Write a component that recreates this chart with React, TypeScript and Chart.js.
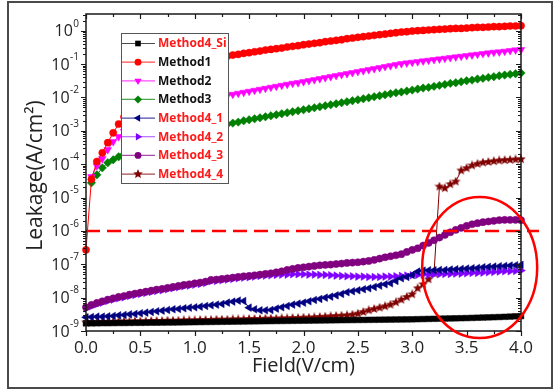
import React, { useEffect, useRef } from 'react';
import { Chart, registerables } from 'chart.js';

Chart.register(...registerables);

// ---------------- data ----------------
const field = [
  0, 0.05, 0.1, 0.15, 0.2, 0.25, 0.3, 0.35, 0.4, 0.45,
  0.5, 0.55, 0.6, 0.65, 0.7, 0.75, 0.8, 0.85, 0.9, 0.95,
  1, 1.05, 1.1, 1.15, 1.2, 1.25, 1.3, 1.35, 1.4, 1.45,
  1.5, 1.55, 1.6, 1.65, 1.7, 1.75, 1.8, 1.85, 1.9, 1.95,
  2, 2.05, 2.1, 2.15, 2.2, 2.25, 2.3, 2.35, 2.4, 2.45,
  2.5, 2.55, 2.6, 2.65, 2.7, 2.75, 2.8, 2.85, 2.9, 2.95,
  3, 3.05, 3.1, 3.15, 3.2, 3.25, 3.3, 3.35, 3.4, 3.45,
  3.5, 3.55, 3.6, 3.65, 3.7, 3.75, 3.8, 3.85, 3.9, 3.95,
  4,
];

const method4Si = [
  1.70e-9, 1.70e-9, 1.71e-9, 1.72e-9, 1.72e-9, 1.73e-9, 1.74e-9, 1.74e-9, 1.75e-9, 1.76e-9,
  1.76e-9, 1.77e-9, 1.78e-9, 1.78e-9, 1.79e-9, 1.80e-9, 1.80e-9, 1.81e-9, 1.82e-9, 1.83e-9,
  1.84e-9, 1.85e-9, 1.86e-9, 1.87e-9, 1.88e-9, 1.89e-9, 1.90e-9, 1.91e-9, 1.92e-9, 1.93e-9,
  1.94e-9, 1.95e-9, 1.96e-9, 1.97e-9, 1.98e-9, 1.99e-9, 2.00e-9, 2.01e-9, 2.02e-9, 2.03e-9,
  2.04e-9, 2.05e-9, 2.06e-9, 2.07e-9, 2.08e-9, 2.09e-9, 2.10e-9, 2.11e-9, 2.12e-9, 2.13e-9,
  2.14e-9, 2.15e-9, 2.16e-9, 2.17e-9, 2.18e-9, 2.19e-9, 2.20e-9, 2.21e-9, 2.22e-9, 2.23e-9,
  2.24e-9, 2.26e-9, 2.28e-9, 2.30e-9, 2.32e-9, 2.34e-9, 2.36e-9, 2.38e-9, 2.40e-9, 2.42e-9,
  2.44e-9, 2.47e-9, 2.50e-9, 2.53e-9, 2.56e-9, 2.59e-9, 2.62e-9, 2.66e-9, 2.70e-9, 2.75e-9,
  2.80e-9,
];

const method1 = [
  2.7e-7, 3.5e-5, 1.2e-4, 2.2e-4, 4.4e-4, 8.7e-4, 1.6e-3, 2.6e-3, 4.0e-3, 5.8e-3,
  7.9e-3, 1.07e-2, 1.38e-2, 1.78e-2, 2.24e-2, 2.75e-2, 3.39e-2, 4.07e-2, 4.9e-2, 5.75e-2,
  6.76e-2, 7.94e-2, 9.33e-2, 0.11, 0.126, 0.145, 0.174, 0.186, 0.195, 0.209,
  0.219, 0.234, 0.245, 0.263, 0.275, 0.288, 0.302, 0.324, 0.339, 0.355,
  0.38, 0.398, 0.417, 0.437, 0.468, 0.49, 0.513, 0.537, 0.575, 0.603,
  0.631, 0.661, 0.692, 0.724, 0.759, 0.794, 0.832, 0.871, 0.912, 0.933,
  0.977, 1.0, 1.02, 1.05, 1.07, 1.10, 1.12, 1.15, 1.17, 1.17,
  1.20, 1.23, 1.26, 1.26, 1.29, 1.32, 1.32, 1.35, 1.38, 1.38,
  1.41,
];

const method2 = [
  null, 4.2e-5, 8.9e-5, 1.45e-4, 2.7e-4, 4.7e-4, 6.6e-4, 9.5e-4, 1.26e-3, 1.62e-3,
  2.04e-3, 2.51e-3, 3.02e-3, 3.55e-3, 4.07e-3, 4.68e-3, 5.25e-3, 5.89e-3, 6.61e-3, 7.24e-3,
  7.94e-3, 8.51e-3, 9.12e-3, 9.77e-3, 1.05e-2, 1.10e-2, 1.15e-2, 1.23e-2, 1.32e-2, 1.41e-2,
  1.51e-2, 1.62e-2, 1.74e-2, 1.86e-2, 2.0e-2, 2.14e-2, 2.29e-2, 2.45e-2, 2.63e-2, 2.75e-2,
  2.95e-2, 3.16e-2, 3.39e-2, 3.63e-2, 3.89e-2, 4.17e-2, 4.47e-2, 4.79e-2, 5.13e-2, 5.5e-2,
  5.89e-2, 6.31e-2, 6.76e-2, 7.24e-2, 7.76e-2, 8.32e-2, 8.91e-2, 9.55e-2, 0.102, 0.107,
  0.112, 0.117, 0.123, 0.129, 0.135, 0.141, 0.148, 0.155, 0.162, 0.170,
  0.178, 0.186, 0.195, 0.204, 0.214, 0.224, 0.229, 0.240, 0.251, 0.263,
  0.269,
];

const method3 = [
  null, 2.75e-5, 4.79e-5, 7.76e-5, 1.10e-4, 1.35e-4, 1.66e-4, 2.0e-4, 2.4e-4, 2.82e-4,
  3.31e-4, 3.8e-4, 4.37e-4, 5.01e-4, 5.62e-4, 6.31e-4, 7.08e-4, 7.94e-4, 8.71e-4, 9.55e-4,
  1.05e-3, 1.12e-3, 1.2e-3, 1.29e-3, 1.38e-3, 1.48e-3, 1.58e-3, 1.7e-3, 1.82e-3, 2.0e-3,
  2.14e-3, 2.29e-3, 2.45e-3, 2.63e-3, 2.82e-3, 3.02e-3, 3.24e-3, 3.47e-3, 3.72e-3, 3.98e-3,
  4.27e-3, 4.57e-3, 4.9e-3, 5.25e-3, 5.62e-3, 6.03e-3, 6.46e-3, 6.92e-3, 7.41e-3, 7.94e-3,
  8.51e-3, 9.12e-3, 9.77e-3, 1.05e-2, 1.12e-2, 1.2e-2, 1.29e-2, 1.38e-2, 1.45e-2, 1.55e-2,
  1.66e-2, 1.78e-2, 1.91e-2, 2.0e-2, 2.14e-2, 2.29e-2, 2.45e-2, 2.63e-2, 2.75e-2, 2.95e-2,
  3.16e-2, 3.31e-2, 3.55e-2, 3.72e-2, 3.98e-2, 4.17e-2, 4.47e-2, 4.68e-2, 4.9e-2, 5.13e-2,
  5.37e-2,
];

const method4_1 = [
  2.57e-9, 2.63e-9, 2.69e-9, 2.69e-9, 2.75e-9, 2.82e-9, 2.95e-9, 3.02e-9, 3.16e-9, 3.24e-9,
  3.39e-9, 3.55e-9, 3.72e-9, 3.89e-9, 4.07e-9, 4.27e-9, 4.47e-9, 4.57e-9, 4.79e-9, 5.01e-9,
  5.13e-9, 5.37e-9, 5.62e-9, 5.89e-9, 6.17e-9, 6.46e-9, 7.08e-9, 7.59e-9, 8.13e-9, 7.94e-9,
  5.01e-9, 4.47e-9, 4.17e-9, 4.17e-9, 4.27e-9, 4.68e-9, 5.13e-9, 5.62e-9, 6.17e-9, 6.61e-9,
  7.08e-9, 7.76e-9, 8.51e-9, 9.12e-9, 1.0e-8, 1.07e-8, 1.17e-8, 1.29e-8, 1.45e-8, 1.55e-8,
  1.66e-8, 1.78e-8, 1.91e-8, 2.09e-8, 2.29e-8, 2.51e-8, 2.69e-8, 3.16e-8, 3.8e-8, 4.17e-8,
  4.79e-8, 6.03e-8, 6.46e-8, 6.61e-8, 6.61e-8, 6.76e-8, 6.76e-8, 6.92e-8, 7.08e-8, 7.24e-8,
  7.41e-8, 7.59e-8, 7.76e-8, 8.13e-8, 8.32e-8, 8.51e-8, 8.71e-8, 8.91e-8, 9.12e-8, 9.33e-8,
  9.55e-8,
];

const method4_2 = [
  4.79e-9, 5.5e-9, 6.31e-9, 7.08e-9, 7.94e-9, 8.71e-9, 9.55e-9, 1.02e-8, 1.12e-8, 1.2e-8,
  1.29e-8, 1.38e-8, 1.48e-8, 1.58e-8, 1.66e-8, 1.78e-8, 1.91e-8, 2.04e-8, 2.19e-8, 2.29e-8,
  2.45e-8, 2.57e-8, 2.75e-8, 3.09e-8, 3.16e-8, 3.31e-8, 3.47e-8, 3.63e-8, 3.8e-8, 3.98e-8,
  4.07e-8, 4.27e-8, 4.47e-8, 4.57e-8, 4.68e-8, 4.79e-8, 4.9e-8, 4.9e-8, 5.01e-8, 5.01e-8,
  5.01e-8, 4.9e-8, 4.9e-8, 4.79e-8, 4.79e-8, 4.68e-8, 4.57e-8, 4.47e-8, 4.37e-8, 4.37e-8,
  4.27e-8, 4.27e-8, 4.17e-8, 4.17e-8, 4.17e-8, 4.27e-8, 4.27e-8, 4.37e-8, 4.47e-8, 4.57e-8,
  4.68e-8, 4.79e-8, 4.9e-8, 4.9e-8, 5.01e-8, 5.01e-8, 5.13e-8, 5.13e-8, 5.25e-8, 5.25e-8,
  5.37e-8, 5.5e-8, 5.5e-8, 5.62e-8, 5.75e-8, 5.89e-8, 6.03e-8, 6.17e-8, 6.17e-8, 6.31e-8,
  6.46e-8,
];

const method4_3 = [
  5.13e-9, 6.03e-9, 6.92e-9, 7.76e-9, 8.71e-9, 9.55e-9, 1.05e-8, 1.12e-8, 1.23e-8, 1.32e-8,
  1.41e-8, 1.51e-8, 1.62e-8, 1.74e-8, 1.82e-8, 1.95e-8, 2.09e-8, 2.24e-8, 2.4e-8, 2.51e-8,
  2.69e-8, 2.82e-8, 3.02e-8, 3.39e-8, 3.47e-8, 3.63e-8, 3.8e-8, 3.98e-8, 4.17e-8, 4.37e-8,
  4.47e-8, 4.68e-8, 4.9e-8, 5.13e-8, 5.37e-8, 5.75e-8, 6.17e-8, 6.76e-8, 7.24e-8, 7.76e-8,
  8.13e-8, 8.51e-8, 8.91e-8, 9.33e-8, 9.55e-8, 9.77e-8, 1.02e-7, 1.05e-7, 1.10e-7, 1.12e-7,
  1.15e-7, 1.20e-7, 1.26e-7, 1.35e-7, 1.48e-7, 1.62e-7, 1.74e-7, 1.86e-7, 2.0e-7, 2.34e-7,
  2.69e-7, 3.02e-7, 3.63e-7, 4.37e-7, 5.25e-7, 6.31e-7, 7.59e-7, 9.12e-7, 1.07e-6, 1.23e-6,
  1.41e-6, 1.58e-6, 1.70e-6, 1.82e-6, 1.91e-6, 2.0e-6, 2.09e-6, 2.14e-6, 2.14e-6, 2.14e-6,
  2.09e-6,
];

const method4_4 = [
  1.82e-9, 1.82e-9, 1.82e-9, 1.86e-9, 1.86e-9, 1.86e-9, 1.91e-9, 1.91e-9, 1.91e-9, 1.95e-9,
  1.95e-9, 1.95e-9, 2.0e-9, 2.0e-9, 2.0e-9, 2.04e-9, 2.04e-9, 2.04e-9, 2.09e-9, 2.09e-9,
  2.09e-9, 2.14e-9, 2.14e-9, 2.14e-9, 2.19e-9, 2.19e-9, 2.19e-9, 2.24e-9, 2.24e-9, 2.24e-9,
  2.29e-9, 2.29e-9, 2.29e-9, 2.34e-9, 2.34e-9, 2.34e-9, 2.4e-9, 2.4e-9, 2.45e-9, 2.45e-9,
  2.51e-9, 2.51e-9, 2.57e-9, 2.63e-9, 2.69e-9, 2.75e-9, 2.82e-9, 2.88e-9, 2.95e-9, 3.09e-9,
  3.31e-9, 3.72e-9, 4.17e-9, 4.57e-9, 5.01e-9, 5.5e-9, 6.17e-9, 7.24e-9, 8.71e-9, 1.05e-8,
  1.26e-8, 1.91e-8, 2.51e-8, 3.55e-8, 5.37e-8, 2.14e-5, 1.91e-5, 2.51e-5, 3.02e-5, 6.46e-5,
  7.59e-5, 9.12e-5, 1.02e-4, 1.12e-4, 1.17e-4, 1.23e-4, 1.29e-4, 1.32e-4, 1.35e-4, 1.38e-4,
  1.41e-4,
];

const seriesNames = ['Method4_Si', 'Method1', 'Method2', 'Method3', 'Method4_1', 'Method4_2', 'Method4_3', 'Method4_4'];
const seriesValues = [method4Si, method1, method2, method3, method4_1, method4_2, method4_3, method4_4];

const xTickValues = [0, 0.5, 1, 1.5, 2, 2.5, 3, 3.5, 4];
const xTickLabels = ['0.0', '0.5', '1.0', '1.5', '2.0', '2.5', '3.0', '3.5', '4.0'];
const yTickExponents = [0, -1, -2, -3, -4, -5, -6, -7, -8, -9];
const thresholdValue = 1e-6;
const xTitle = 'Field(V/cm)';
const yTitle = 'Leakage(A/cm²)';

// ---------------- styles ----------------
const FONT = '"Open Sans", "DejaVu Sans", sans-serif';
const colors = ['#000000', '#ff0000', '#ff00ff', '#008000', '#000080', '#8000ff', '#800080', '#800000'];
const labelColors = ['#ff1a1a', '#111111', '#111111', '#111111', '#ff1a1a', '#ff1a1a', '#ff1a1a', '#ff1a1a'];
type Mk = { style: string; rot: number; r: number };
const markers: Mk[] = [
  { style: 'rect', rot: 0, r: 4 },
  { style: 'circle', rot: 0, r: 3.6 },
  { style: 'triangle', rot: 180, r: 4.4 },
  { style: 'rectRot', rot: 0, r: 4.2 },
  { style: 'triangle', rot: -90, r: 4.4 },
  { style: 'triangle', rot: 90, r: 4.4 },
  { style: 'circle', rot: 0, r: 3.6 },
  { style: 'star', rot: 0, r: 5 },
];
const legendMarkers: Mk[] = [
  { style: 'rect', rot: 0, r: 4 },
  { style: 'circle', rot: 0, r: 3.4 },
  { style: 'triangle', rot: 180, r: 4.2 },
  { style: 'rectRot', rot: 0, r: 4 },
  { style: 'triangle', rot: -90, r: 4.2 },
  { style: 'triangle', rot: 90, r: 4.2 },
  { style: 'circle', rot: 0, r: 3.4 },
  { style: 'star', rot: 0, r: 5 },
];

function makeStar(color: string, size: number) {
  const c = document.createElement('canvas');
  c.width = size;
  c.height = size;
  const g = c.getContext('2d')!;
  g.fillStyle = color;
  g.beginPath();
  const cx = size / 2, cy = size / 2, R = size / 2, r = R * 0.45;
  for (let i = 0; i < 10; i++) {
    const a = -Math.PI / 2 + (i * Math.PI) / 5;
    const rad = i % 2 === 0 ? R : r;
    const px = cx + rad * Math.cos(a), py = cy + rad * Math.sin(a);
    if (i === 0) g.moveTo(px, py); else g.lineTo(px, py);
  }
  g.closePath();
  g.fill();
  return c;
}

function drawMarker(ctx: CanvasRenderingContext2D, mk: Mk, x: number, y: number, color: string, star: HTMLCanvasElement) {
  ctx.save();
  ctx.fillStyle = color;
  ctx.strokeStyle = color;
  if (mk.style === 'star') {
    ctx.drawImage(star, x - star.width / 2, y - star.height / 2);
    ctx.restore();
    return;
  }
  ctx.translate(x, y);
  ctx.rotate((mk.rot * Math.PI) / 180);
  ctx.beginPath();
  const r = mk.r;
  if (mk.style === 'circle') {
    ctx.arc(0, 0, r, 0, Math.PI * 2);
  } else if (mk.style === 'rect') {
    const s = r * Math.SQRT1_2;
    ctx.rect(-s, -s, 2 * s, 2 * s);
  } else if (mk.style === 'rectRot') {
    const s = r;
    ctx.moveTo(0, -s); ctx.lineTo(s, 0); ctx.lineTo(0, s); ctx.lineTo(-s, 0); ctx.closePath();
  } else if (mk.style === 'triangle') {
    const side = (3 * r) / Math.sqrt(3);
    const h = (side * Math.sqrt(3)) / 2;
    ctx.moveTo(0, -(2 * h) / 3);
    ctx.lineTo(side / 2, h / 3);
    ctx.lineTo(-side / 2, h / 3);
    ctx.closePath();
  }
  ctx.fill();
  ctx.restore();
}

function makeDecor(star: HTMLCanvasElement) {
  return {
    id: 'decor',
    beforeDraw(chart: any) {
      const ctx: CanvasRenderingContext2D = chart.ctx;
      ctx.save();
      ctx.fillStyle = '#ffffff';
      ctx.fillRect(0, 0, chart.width, chart.height);
      ctx.strokeStyle = '#4a4a4a';
      ctx.lineWidth = 2;
      ctx.strokeRect(8, 2, 544, 386);
      ctx.restore();
    },
    afterDatasetsDraw(chart: any) {
      const ctx: CanvasRenderingContext2D = chart.ctx;
      const a = chart.chartArea;
      const xs = chart.scales.x;
      const ys = chart.scales.y;
      ctx.save();

      // threshold dashed line
      const ty = ys.getPixelForValue(thresholdValue);
      ctx.strokeStyle = '#ff0000';
      ctx.lineWidth = 2.5;
      ctx.setLineDash([14, 7]);
      ctx.beginPath();
      ctx.moveTo(a.left, ty);
      ctx.lineTo(539, ty);
      ctx.stroke();
      ctx.setLineDash([]);

      // axes box
      ctx.strokeStyle = '#1a1a1a';
      ctx.lineWidth = 1.5;
      ctx.strokeRect(a.left, a.top, a.right - a.left, a.bottom - a.top);

      // x ticks
      ctx.lineWidth = 1.2;
      ctx.beginPath();
      for (let v = 0; v <= 4.0001; v += 0.25) {
        const px = Math.round(xs.getPixelForValue(v)) + 0.5;
        const major = Math.abs(v * 2 - Math.round(v * 2)) < 1e-6;
        const len = major ? 5 : 3;
        ctx.moveTo(px, a.bottom); ctx.lineTo(px, a.bottom + len);
        ctx.moveTo(px, a.top); ctx.lineTo(px, a.top + len);
      }
      // y ticks
      for (let e = -9; e <= 0; e++) {
        for (let m = 1; m <= 9; m++) {
          const v = m * Math.pow(10, e);
          if (v > ys.max) break;
          const py = Math.round(ys.getPixelForValue(v)) + 0.5;
          const len = m === 1 ? 5 : 3;
          ctx.moveTo(a.left, py); ctx.lineTo(a.left - len, py);
          ctx.moveTo(a.right, py); ctx.lineTo(a.right - len, py);
        }
      }
      ctx.stroke();

      // x tick labels
      ctx.fillStyle = '#222222';
      ctx.font = `17px ${FONT}`;
      ctx.textAlign = 'center';
      ctx.textBaseline = 'middle';
      xTickValues.forEach((v, i) => {
        ctx.fillText(xTickLabels[i], xs.getPixelForValue(v), a.bottom + 17);
      });

      // y tick labels 10^n
      yTickExponents.forEach((e) => {
        const py = ys.getPixelForValue(Math.pow(10, e));
        const sup = e === 0 ? '0' : '-' + String(-e);
        ctx.font = `10px ${FONT}`;
        ctx.textAlign = 'right';
        ctx.textBaseline = 'middle';
        const w = ctx.measureText(sup).width;
        ctx.fillText(sup, 79, py - 7);
        ctx.font = `16px ${FONT}`;
        ctx.fillText('10', 79 - w - 0.5, py + 1);
      });

      // axis titles
      ctx.font = `20px ${FONT}`;
      ctx.textAlign = 'center';
      ctx.textBaseline = 'alphabetic';
      ctx.fillText(xTitle, (a.left + a.right) / 2, 372);
      ctx.save();
      ctx.translate(42, (a.top + a.bottom) / 2 + 3);
      ctx.rotate(-Math.PI / 2);
      ctx.font = `21px ${FONT}`;
      ctx.fillText(yTitle, 0, 0);
      ctx.restore();

      // legend
      const lx = 121, lt = 33, lr = 228, lb = 183;
      ctx.fillStyle = '#ffffff';
      ctx.fillRect(lx, lt, lr - lx, lb - lt);
      ctx.strokeStyle = '#555555';
      ctx.lineWidth = 1;
      ctx.strokeRect(lx + 0.5, lt + 0.5, lr - lx, lb - lt);
      seriesNames.forEach((name, i) => {
        const ry = 43.5 + i * 18.65;
        ctx.strokeStyle = colors[i];
        ctx.globalAlpha = 0.7;
        ctx.lineWidth = 1.2;
        ctx.beginPath();
        ctx.moveTo(lx + 1, ry);
        ctx.lineTo(155, ry);
        ctx.stroke();
        ctx.globalAlpha = 1;
        drawMarker(ctx, legendMarkers[i], 138, ry, colors[i], star);
        ctx.fillStyle = labelColors[i];
        ctx.font = `bold 12px ${FONT}`;
        ctx.textAlign = 'left';
        ctx.textBaseline = 'middle';
        ctx.fillText(name, 158, ry + 0.5);
      });

      // highlight ellipse
      const cx = xs.getPixelForValue(3.62);
      const cy = ys.getPixelForValue(8e-8);
      ctx.strokeStyle = '#ff0000';
      ctx.lineWidth = 2.5;
      ctx.beginPath();
      ctx.ellipse(cx, cy, 57.5, 70.5, 0, 0, Math.PI * 2);
      ctx.stroke();

      ctx.restore();
    },
  };
}

export default function App() {
  const ref = useRef<HTMLCanvasElement>(null);
  useEffect(() => {
    document.body.style.margin = '0';
    const canvas = ref.current!;
    const star = makeStar('#800000', 10);
    const datasets = seriesNames.map((name, i) => {
      const mk = markers[i];
      return {
        label: name,
        data: field.map((f, j) => ({ x: f, y: seriesValues[i][j] })),
        borderColor: colors[i],
        backgroundColor: colors[i],
        borderWidth: 1,
        pointStyle: mk.style === 'star' ? star : mk.style,
        rotation: mk.rot,
        pointRotation: mk.rot,
        pointRadius: mk.r,
        pointBorderWidth: 0.5,
        pointBorderColor: colors[i],
        pointBackgroundColor: colors[i],
        showLine: true,
        spanGaps: false,
        clip: 5,
        order: name === 'Method4_3' ? -1 : 0,
      };
    });
    const chart = new Chart(canvas, {
      type: 'scatter',
      data: { datasets: datasets as any },
      options: {
        animation: false,
        responsive: false,
        devicePixelRatio: 1,
        layout: { padding: { left: 86, right: 39, top: 14, bottom: 61 } },
        plugins: { legend: { display: false }, tooltip: { enabled: false }, title: { display: false } },
        elements: { line: { tension: 0 } },
        scales: {
          x: { type: 'linear', min: 0, max: 4, display: false },
          y: { type: 'logarithmic', min: 1e-9, max: Math.pow(10, 0.5), display: false },
        },
      },
      plugins: [makeDecor(star)],
    });
    return () => chart.destroy();
  }, []);
  return (
    <div style={{ position: 'absolute', left: 0, top: 0, width: 560, height: 392 }}>
      <canvas ref={ref} width={560} height={392} style={{ display: 'block', width: 560, height: 392 }} />
    </div>
  );
}
